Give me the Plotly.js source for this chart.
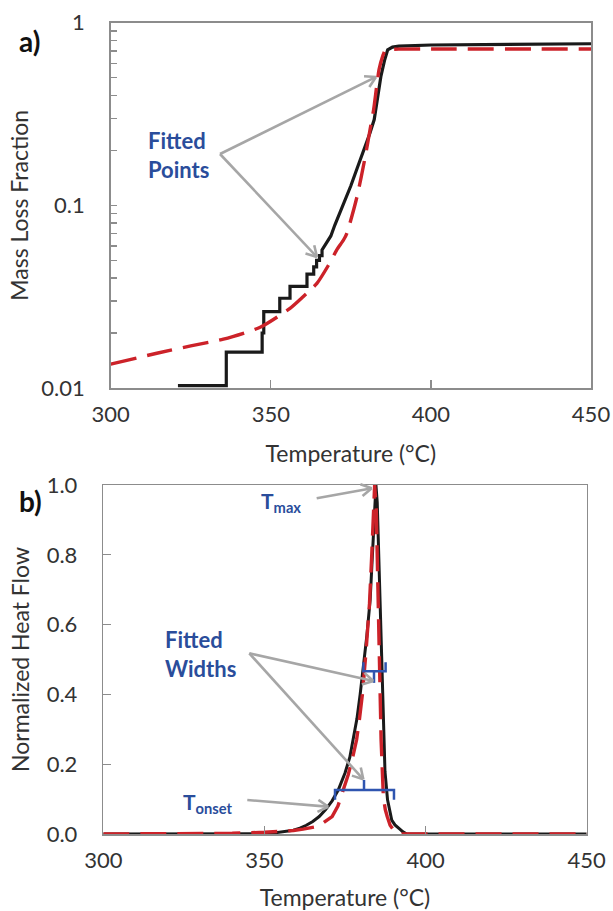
<!DOCTYPE html>
<html>
<head>
<meta charset="utf-8">
<script src="https://cdn.plot.ly/plotly-3.0.1.min.js"></script>
<style>
  html, body { margin: 0; padding: 0; background: #ffffff; }
  #chart { width: 613px; height: 911px; }
</style>
</head>
<body>
<div id="chart"></div>
<script>
// ---------------- DATA ----------------
// a) Mass loss fraction (log scale) vs temperature
const tgaExpT = [321, 336.1, 336.1, 347.3, 347.3, 347.8, 347.8, 352.8, 352.8, 356.0, 356.0, 361.3, 361.3,
                 363.4, 363.4, 364.3, 364.3, 365.2, 365.2, 366.0, 366.0, 366.8, 367.5, 368.75, 370.0,
                 372.0, 375.0, 377.0, 379.2, 381.0, 382.3, 383.5, 384.4, 385.5, 386.5, 388.0, 390.0,
                 400.0, 420.0, 450.0];
const tgaExpY = [0.0103, 0.0103, 0.0157, 0.0157, 0.020, 0.020, 0.0262, 0.0262, 0.031, 0.031, 0.036, 0.036, 0.042,
                 0.042, 0.046, 0.046, 0.050, 0.050, 0.053, 0.053, 0.057, 0.060, 0.063, 0.068, 0.078,
                 0.095, 0.128, 0.160, 0.202, 0.250, 0.295, 0.400, 0.510, 0.620, 0.710, 0.735, 0.745,
                 0.755, 0.762, 0.767];
const tgaFitT = [300, 314.4, 325, 335.2, 346.7, 356.0, 360.0, 364.4, 368.0, 370.6, 372.7, 373.75, 376.9,
                 379.5, 381.0, 382.1, 383.8, 385.0, 385.7, 387.0, 390.0, 400.0, 450.0];
const tgaFitY = [0.0135, 0.0155, 0.0170, 0.0185, 0.0215, 0.0273, 0.0315, 0.0374, 0.047, 0.057, 0.0646, 0.0703, 0.111,
                 0.185, 0.260, 0.333, 0.553, 0.660, 0.705, 0.714, 0.717, 0.718, 0.718];

// b) Normalized heat flow vs temperature
const dscExpT = [300, 340, 350, 353, 356, 359, 361, 363, 365, 367, 369, 371, 372.9, 375, 376.5, 377.6, 378.7,
                 379.7, 380.7, 381.8, 382.8, 383.7, 384.3, 384.6, 385.0, 385.4, 385.9, 386.4, 386.9, 387.4,
                 388.2, 389.5, 390.5, 391.3, 392.1, 393.0, 394.2, 400, 450];
const dscExpY = [0, 0, 0.001, 0.003, 0.006, 0.011, 0.017, 0.025, 0.036, 0.050, 0.070, 0.095, 0.126, 0.175,
                 0.220, 0.270, 0.330, 0.400, 0.480, 0.570, 0.670, 0.840, 0.950, 1.000, 0.950, 0.820, 0.670,
                 0.450, 0.270, 0.180, 0.098, 0.040, 0.026, 0.018, 0.013, 0.006, 0.0, 0, 0];
const dscFitT = [300, 330, 340, 350, 355, 359, 362, 365.5, 368, 371.0, 372.8, 374.4, 376.0, 377.4, 378.6,
                 379.5, 380.4, 381.5, 382.6, 383.3, 383.8, 384.2, 384.7, 385.3, 385.8, 386.2, 386.9, 387.5,
                 388.1, 389, 390, 391, 392, 450];
const dscFitY = [0, 0.001, 0.002, 0.005, 0.007, 0.010, 0.014, 0.020, 0.030, 0.050, 0.080, 0.126, 0.170,
                 0.220, 0.270, 0.330, 0.400, 0.520, 0.660, 0.800, 0.920, 1.000, 0.930, 0.660, 0.450, 0.270,
                 0.107, 0.070, 0.050, 0.025, 0.012, 0.004, 0, 0];

// fitted-width brackets (panel b)
const onsetBracketT = [371.9, 371.9, 390.2, 390.2, null, 380.9, 380.9];
const onsetBracketY = [0.098, 0.126, 0.126, 0.098, null, 0.126, 0.155];
const peakBracketT  = [380.7, 380.7, 387.6, 387.6, null, 384.0, 384.0];
const peakBracketY  = [0.492, 0.466, 0.466, 0.492, null, 0.466, 0.433];

// ticks
const tempTicks = [300, 350, 400, 450];
const tempTickText = ['300', '350', '400', '450'];
const mlfTicks = [0.01, 0.1, 1];
const mlfTickText = ['0.01', '0.1', '1'];
const hfTicks = [0, 0.2, 0.4, 0.6, 0.8, 1.0];
const hfTickText = ['0.0', '0.2', '0.4', '0.6', '0.8', '1.0'];

// ---------------- STYLE ----------------
const FONT = "Lato, 'Open Sans', sans-serif";
const AXC = '#8c8c8c';
const TXT = '#333333';
const BLUE = '#2a4d9b';
const BRK = '#2f55b0';
const ARR = '#a6a6a6';
const BLACK = '#1a1a1a';
const RED = '#cc2229';
const W = 613, H = 911;
const px = v => v / W;
const py = v => 1 - v / H;

// arrow (shaft + open V head) drawn as shapes, given tail and head positions in pixels
function arrowShapes(tx, ty, hx, hy) {
  const dx = hx - tx, dy = hy - ty;
  const L = Math.hypot(dx, dy);
  const ux = dx / L, uy = dy / L;
  const arm = 12, ang = 30 * Math.PI / 180;
  const out = [];
  const ln = {color: ARR, width: 2.6};
  out.push({type: 'line', xref: 'paper', yref: 'paper', x0: px(tx), y0: py(ty), x1: px(hx - ux), y1: py(hy - uy), line: ln, layer: 'above'});
  [ang, -ang].forEach(a => {
    const rx = -(ux * Math.cos(a) - uy * Math.sin(a));
    const ry = -(ux * Math.sin(a) + uy * Math.cos(a));
    out.push({type: 'line', xref: 'paper', yref: 'paper', x0: px(hx), y0: py(hy), x1: px(hx + rx * arm), y1: py(hy + ry * arm), line: ln, layer: 'above'});
  });
  return out;
}

const shapes = [].concat(
  arrowShapes(220, 154, 376, 77),
  arrowShapes(220, 154, 317, 257),
  arrowShapes(316.7, 498.3, 371.7, 488.3),
  arrowShapes(249.3, 653.3, 373.3, 681),
  arrowShapes(249.3, 653.3, 363.3, 779.3),
  arrowShapes(247.3, 800, 328.3, 806.7)
);

const traces = [
  {x: tgaExpT, y: tgaExpY, xaxis: 'x', yaxis: 'y', mode: 'lines', line: {color: BLACK, width: 3.2}, hoverinfo: 'skip'},
  {x: tgaFitT, y: tgaFitY, xaxis: 'x', yaxis: 'y', mode: 'lines', line: {color: RED, width: 3.4, dash: '26px,11px', shape: 'spline', smoothing: 0.6}, hoverinfo: 'skip'},
  {x: dscExpT, y: dscExpY, xaxis: 'x2', yaxis: 'y2', mode: 'lines', line: {color: BLACK, width: 3.0}, hoverinfo: 'skip'},
  {x: dscFitT, y: dscFitY, xaxis: 'x2', yaxis: 'y2', mode: 'lines', line: {color: RED, width: 3.4, dash: '26px,11px'}, hoverinfo: 'skip'},
  {x: onsetBracketT, y: onsetBracketY, xaxis: 'x2', yaxis: 'y2', mode: 'lines', line: {color: BRK, width: 2.5}, hoverinfo: 'skip', connectgaps: false},
  {x: peakBracketT, y: peakBracketY, xaxis: 'x2', yaxis: 'y2', mode: 'lines', line: {color: BRK, width: 2.5}, hoverinfo: 'skip', connectgaps: false}
];

function xAxis(domain, anchor) {
  return {
    domain: domain, anchor: anchor, range: [300, 450],
    tickvals: tempTicks, ticktext: tempTickText,
    ticks: 'inside', ticklen: 8, tickwidth: 1.3, tickcolor: AXC,
    showline: true, linecolor: AXC, linewidth: 1.5, mirror: true,
    showgrid: false, zeroline: false, automargin: false,
    tickfont: {size: 22, color: TXT, family: FONT},
    ticklabelstandoff: 6,
    title: {text: 'Temperature (°C)', font: {size: 23, color: TXT, family: FONT}, standoff: 20}
  };
}

const layout = {
  width: W, height: H,
  margin: {l: 0, r: 0, t: 0, b: 0},
  paper_bgcolor: '#ffffff', plot_bgcolor: '#ffffff',
  showlegend: false,
  font: {family: FONT, size: 22, color: TXT},
  xaxis: xAxis([110.7 / W, 591 / W], 'y'),
  yaxis: {
    domain: [1 - 388 / H, 1 - 22.7 / H], anchor: 'x',
    type: 'log', range: [-2, 0],
    tickvals: mlfTicks, ticktext: mlfTickText,
    ticks: 'inside', ticklen: 6, tickwidth: 1.3, tickcolor: AXC,
    minor: {ticks: 'inside', ticklen: 6, tickwidth: 1.3, tickcolor: AXC, dtick: 'D1', showgrid: false},
    showline: true, linecolor: AXC, linewidth: 1.5, mirror: true,
    showgrid: false, zeroline: false, automargin: false,
    tickfont: {size: 22, color: TXT, family: FONT},
    ticklabelstandoff: 20,
    title: {text: 'Mass Loss Fraction', font: {size: 23, color: TXT, family: FONT}, standoff: 6}
  },
  xaxis2: xAxis([103.3 / W, 586.7 / W], 'y2'),
  yaxis2: {
    domain: [1 - 834 / H, 1 - 485 / H], anchor: 'x2',
    range: [0, 1],
    tickvals: hfTicks, ticktext: hfTickText,
    ticks: 'inside', ticklen: 8, tickwidth: 1.3, tickcolor: AXC,
    showline: true, linecolor: AXC, linewidth: 1.5, mirror: true,
    showgrid: false, zeroline: false, automargin: false,
    tickfont: {size: 22, color: TXT, family: FONT},
    ticklabelstandoff: 20,
    title: {text: 'Normalized Heat Flow', font: {size: 23, color: TXT, family: FONT}, standoff: 10}
  },
  shapes: shapes,
  annotations: [
    // panel labels
    {xref: 'paper', yref: 'paper', x: px(17), y: py(41), xanchor: 'left', yanchor: 'middle', text: '<b>a)</b>', showarrow: false, font: {size: 28, color: '#111111', family: FONT}},
    {xref: 'paper', yref: 'paper', x: px(17), y: py(501), xanchor: 'left', yanchor: 'middle', text: '<b>b)</b>', showarrow: false, font: {size: 28, color: '#111111', family: FONT}},
    // text labels
    {xref: 'paper', yref: 'paper', x: px(146), y: py(155), xanchor: 'left', yanchor: 'middle', align: 'left', text: '<b>Fitted<br>Points</b>', showarrow: false, font: {size: 22, color: BLUE, family: FONT}},
    {xref: 'paper', yref: 'paper', x: px(163), y: py(654), xanchor: 'left', yanchor: 'middle', align: 'left', text: '<b>Fitted<br>Widths</b>', showarrow: false, font: {size: 22, color: BLUE, family: FONT}},
    {xref: 'paper', yref: 'paper', x: px(259), y: py(502), xanchor: 'left', yanchor: 'middle', text: '<b>T<sub>max</sub></b>', showarrow: false, font: {size: 21, color: BLUE, family: FONT}},
    {xref: 'paper', yref: 'paper', x: px(181), y: py(803), xanchor: 'left', yanchor: 'middle', text: '<b>T<sub>onset</sub></b>', showarrow: false, font: {size: 21, color: BLUE, family: FONT}}
  ]
};

Plotly.newPlot('chart', traces, layout, {staticPlot: true, displayModeBar: false});
</script>
</body>
</html>
